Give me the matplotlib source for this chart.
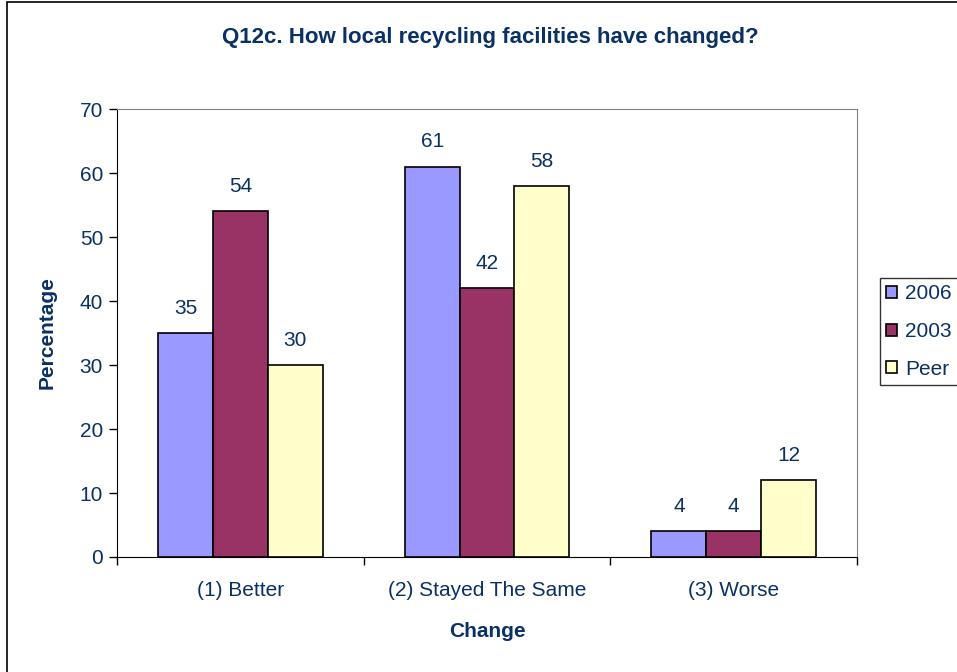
import numpy as np
from matplotlib import pyplot as plt
from matplotlib.patches import Rectangle

plt.rcParams['font.family'] = ['Liberation Sans', 'DejaVu Sans']

categories = ['(1) Better', '(2) Stayed The Same', '(3) Worse']
series_names = ['2006', '2003', 'Peer']
values_2006 = [35, 61, 4]
values_2003 = [54, 42, 4]
values_peer = [30, 58, 12]

colors = ['#9999FF', '#993366', '#FFFFCC']
text_color = '#0A3163'
fs = 15

fig = plt.figure(figsize=(9.57, 6.72), dpi=100)
ax = fig.add_axes([117 / 957, 1 - 557 / 672, 740 / 957, 448 / 672])

x = np.arange(len(categories))
width = 1 / 4.5
for i, (name, vals) in enumerate(zip(series_names, [values_2006, values_2003, values_peer])):
    pos = x + (i - 1) * width
    bars = ax.bar(pos, vals, width, color=colors[i], edgecolor='black', linewidth=1.2,
                  label=name, zorder=3)
    for b, v in zip(bars, vals):
        ax.annotate(str(v), (b.get_x() + b.get_width() / 2, v), xytext=(0, 11),
                    textcoords='offset points', ha='center', va='bottom',
                    fontsize=fs, color=text_color)

ax.set_xlim(-0.5, 2.5)
ax.set_ylim(0, 70)
ax.set_yticks(range(0, 71, 10))
ax.set_xticks([-0.5, 0.5, 1.5, 2.5])
ax.set_xticklabels([])
ax.set_xticks(x, minor=True)
ax.set_xticklabels(categories, minor=True)
ax.tick_params(axis='x', which='minor', length=0, pad=17, labelsize=fs, labelcolor=text_color)
ax.tick_params(axis='x', which='major', length=6, width=1, direction='out')
ax.tick_params(axis='y', length=6, width=1, direction='out', labelsize=fs,
               labelcolor=text_color, pad=4)

for side in ['top', 'right']:
    ax.spines[side].set_color('#808080')
for side in ['left', 'bottom']:
    ax.spines[side].set_color('black')

ax.set_ylabel('Percentage', fontsize=fs, fontweight='bold', color=text_color, labelpad=17)
ax.set_xlabel('Change', fontsize=fs, fontweight='bold', color=text_color, labelpad=16)

fig.text(490 / 957, 1 - 37 / 672, 'Q12c. How local recycling facilities have changed?',
         ha='center', va='center', fontsize=16, fontweight='bold', color=text_color)

leg = ax.legend(loc='upper left', bbox_to_anchor=(880 / 957, 1 - 278 / 672),
                bbox_transform=fig.transFigure, frameon=True, fancybox=False,
                edgecolor='black', fontsize=fs, handlelength=0.5, handleheight=0.5,
                handletextpad=0.4, labelspacing=0.9, borderpad=0.3, borderaxespad=0)
for t in leg.get_texts():
    t.set_color(text_color)
leg.get_frame().set_linewidth(1)

# outer chart border
fig.patches.append(Rectangle((7 / 957, -0.01), 1.0, 1 - 2 / 672 + 0.01,
                             transform=fig.transFigure, fill=False,
                             edgecolor='black', linewidth=1.2))

fig.savefig('out.png', dpi=100)
